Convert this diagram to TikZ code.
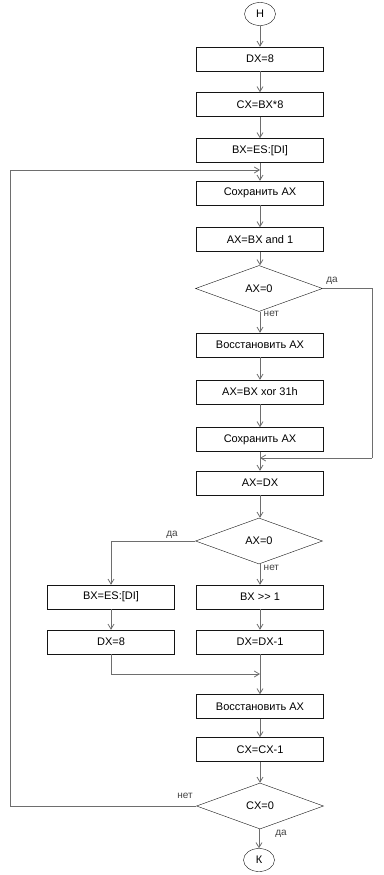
\documentclass[tikz,border=0pt]{standalone}
\usepackage{fontspec}
\setmainfont{Liberation Sans}
\usetikzlibrary{arrows.meta,shapes.geometric}
\definecolor{lineblack}{RGB}{20,20,20}
\definecolor{flowgrey}{RGB}{110,110,110}

\begin{document}
\begin{tikzpicture}[x=1pt, y=-1pt,
    font=\fontsize{11}{13}\selectfont,
    block/.style={draw=lineblack, thin, rectangle, minimum width=127pt,
      minimum height=24pt, inner sep=0pt},
    cond/.style={draw=lineblack, thin, diamond, minimum width=127pt,
      minimum height=46pt, inner sep=0pt},
    term/.style={draw=lineblack, thin, ellipse, minimum width=31pt,
      minimum height=23pt, inner sep=0pt},
    flow/.style={flowgrey, thick, -{Straight Barb[length=5pt,width=6pt]}},
    wire/.style={flowgrey, thick},
    lbl/.style={font=\fontsize{10}{12}\selectfont, text=lineblack!80}]
    \useasboundingbox (0,0) rectangle (383,875);

    % Init
    \node[term] (start) at (260,14) {Н};
    \node[block] (dx) at (260,59) {DX=8};
    \node[block] (cx) at (260,104.5) {CX=BX*8};
    \node[block] (bx) at (260,150.5) {BX=ES:[DI]};

    % First check
    \node[block] (save1) at (260,193) {Сохранить AX};
    \node[block] (and) at (260,239.5) {AX=BX and 1};
    \node[cond] (test1) at (259,288.5) {AX=0};
    \node[block] (rest1) at (260,345) {Восстановить AX};
    \node[block] (xor) at (260,392) {AX=BX xor 31h};
    \node[block] (save2) at (260,439.5) {Сохранить AX};
    \coordinate (join1) at (260,458);

    % Second check
    \node[block] (axdx) at (260,483) {AX=DX};
    \node[cond] (test2) at (259,541) {AX=0};
    \node[block] (reload) at (111,597) {BX=ES:[DI]};
    \node[block] (shift) at (260,597) {BX >{}> 1};
    \node[block] (reset) at (111,642) {DX=8};
    \node[block] (dec) at (260,642) {DX=DX-1};
    \coordinate (join2) at (260,674);

    % Loop end
    \node[block] (rest2) at (260,706.5) {Восстановить AX};
    \node[block] (cxdec) at (260,749.5) {CX=CX-1};
    \node[cond] (test3) at (260,806) {CX=0};
    \node[term] (stop) at (259,860) {К};
    \coordinate (loop) at (260,170);

    % Straight flow
    \draw[flow] (start) -- (dx);
    \draw[flow] (dx) -- (cx);
    \draw[flow] (cx) -- (bx);
    \draw[flow] (bx) -- (save1);
    \draw[flow] (save1) -- (and);
    \draw[flow] (and) -- (and |- test1.north);
    \draw[flow] (test1.south -| rest1) -- (rest1)
      node[pos=0.1, right, lbl] {нет};
    \draw[flow] (rest1) -- (xor);
    \draw[flow] (xor) -- (save2);
    \draw[flow] (save2) -- (axdx);
    \draw[wire] (test1.east) -- (372,288.5) -- (372,458);
    \draw[flow] (372,458) -- (join1);
    \node[lbl] at (332,281) {да};

    \draw[flow] (axdx) -- (axdx |- test2.north);
    \draw[flow] (test2.south -| shift) -- (shift)
      node[pos=0.2, right, lbl] {нет};
    \draw[flow] (test2.west) -| (reload);
    \node[lbl] at (172,535) {да};
    \draw[flow] (reload) -- (reset);
    \draw[flow] (shift) -- (dec);
    \draw[flow] (reset) |- (join2);
    \draw[flow] (dec) -- (rest2);
    \draw[flow] (rest2) -- (cxdec);
    \draw[flow] (cxdec) -- (cxdec |- test3.north);

    % Back edge and exit
    \draw[flow] (test3.west) -- (10,806) -- (10,170) -- (loop);
    \node[lbl] at (185,796) {нет};
    \draw[flow] (test3.south -| stop) -- (stop);
    \node[lbl] at (281,834) {да};
  \end{tikzpicture}
\end{document}
